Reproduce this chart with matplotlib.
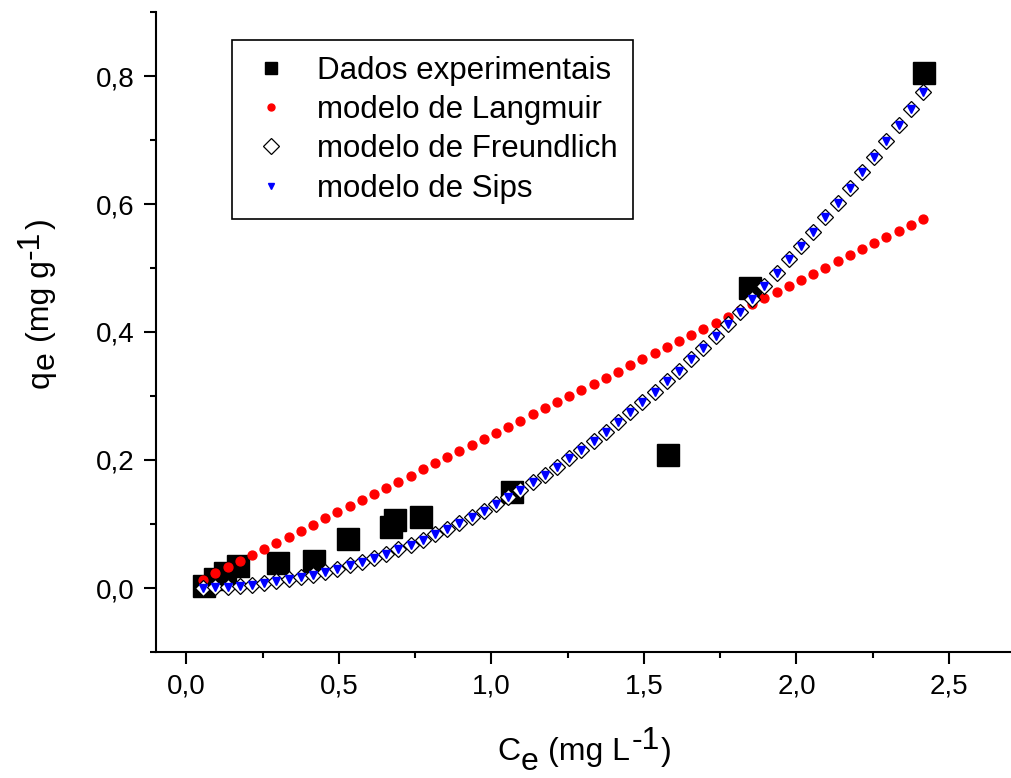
import matplotlib
matplotlib.use("Agg")
import matplotlib.pyplot as plt
from matplotlib.transforms import IdentityTransform

plt.rcParams['font.family'] = ['Liberation Sans', 'DejaVu Sans']

ce_exp = [0.056, 0.093, 0.127, 0.170, 0.300, 0.419, 0.530, 0.669, 0.682, 0.770, 1.066, 1.579, 1.846, 2.418]
qe_exp = [0.003, 0.014, 0.023, 0.035, 0.039, 0.042, 0.076, 0.095, 0.106, 0.111, 0.150, 0.208, 0.469, 0.804]

# model curves (same Ce grid for all three)
ce_model = [0.055, 0.095, 0.135, 0.175, 0.215, 0.255, 0.295, 0.335, 0.375, 0.415,
            0.455, 0.495, 0.535, 0.575, 0.615, 0.655, 0.695, 0.735, 0.775, 0.815,
            0.855, 0.895, 0.935, 0.975, 1.015, 1.055, 1.095, 1.135, 1.175, 1.215,
            1.255, 1.295, 1.335, 1.375, 1.415, 1.455, 1.495, 1.535, 1.575, 1.615,
            1.655, 1.695, 1.735, 1.775, 1.815, 1.855, 1.895, 1.935, 1.975, 2.015,
            2.055, 2.095, 2.135, 2.175, 2.215, 2.255, 2.295, 2.335, 2.375, 2.415]
qe_langmuir = [0.0131, 0.0227, 0.0323, 0.0418, 0.0514, 0.0609, 0.0705, 0.0801, 0.0896, 0.0992,
               0.1087, 0.1183, 0.1279, 0.1374, 0.1470, 0.1565, 0.1661, 0.1757, 0.1852, 0.1948,
               0.2043, 0.2139, 0.2235, 0.2330, 0.2426, 0.2521, 0.2617, 0.2713, 0.2808, 0.2904,
               0.2999, 0.3095, 0.3191, 0.3286, 0.3382, 0.3477, 0.3573, 0.3669, 0.3764, 0.3860,
               0.3955, 0.4051, 0.4147, 0.4242, 0.4338, 0.4433, 0.4529, 0.4625, 0.4720, 0.4816,
               0.4911, 0.5007, 0.5103, 0.5198, 0.5294, 0.5389, 0.5485, 0.5581, 0.5676, 0.5772]
qe_freundlich = [0.0003, 0.0010, 0.0021, 0.0036, 0.0054, 0.0077, 0.0104, 0.0135, 0.0170, 0.0210,
                 0.0253, 0.0301, 0.0353, 0.0409, 0.0470, 0.0534, 0.0603, 0.0677, 0.0754, 0.0836,
                 0.0923, 0.1013, 0.1108, 0.1208, 0.1311, 0.1420, 0.1532, 0.1649, 0.1770, 0.1896,
                 0.2026, 0.2161, 0.2300, 0.2443, 0.2591, 0.2744, 0.2901, 0.3062, 0.3228, 0.3398,
                 0.3573, 0.3752, 0.3936, 0.4124, 0.4317, 0.4514, 0.4716, 0.4922, 0.5133, 0.5349,
                 0.5569, 0.5793, 0.6022, 0.6256, 0.6494, 0.6737, 0.6984, 0.7236, 0.7492, 0.7753]
qe_sips = [0.0003, 0.0010, 0.0021, 0.0036, 0.0054, 0.0077, 0.0104, 0.0135, 0.0170, 0.0210,
           0.0253, 0.0301, 0.0353, 0.0409, 0.0470, 0.0534, 0.0603, 0.0677, 0.0754, 0.0836,
           0.0923, 0.1013, 0.1108, 0.1208, 0.1311, 0.1420, 0.1532, 0.1649, 0.1770, 0.1896,
           0.2026, 0.2161, 0.2300, 0.2443, 0.2591, 0.2744, 0.2901, 0.3062, 0.3228, 0.3398,
           0.3573, 0.3752, 0.3936, 0.4124, 0.4317, 0.4514, 0.4716, 0.4922, 0.5133, 0.5349,
           0.5569, 0.5793, 0.6022, 0.6256, 0.6494, 0.6737, 0.6984, 0.7236, 0.7492, 0.7753]

x_ticks = [0.0, 0.5, 1.0, 1.5, 2.0, 2.5]
x_ticklabels = ['0,0', '0,5', '1,0', '1,5', '2,0', '2,5']
x_minor = [0.25, 0.75, 1.25, 1.75, 2.25]
y_ticks = [0.0, 0.2, 0.4, 0.6, 0.8]
y_ticklabels = ['0,0', '0,2', '0,4', '0,6', '0,8']
y_minor = [-0.1, 0.1, 0.3, 0.5, 0.7, 0.9]

W, H = 1012, 778
fig = plt.figure(figsize=(W / 100, H / 100), dpi=100)
ax = fig.add_axes([156 / W, 1 - 652 / H, (1010 - 156) / W, (652 - 12) / H])

ax.plot(ce_exp, qe_exp, 's', color='black', ms=16.5, label='Dados experimentais')
ax.plot(ce_model, qe_langmuir, 'o', color='#ff0000', mec='#ff0000', ms=6.4, label='modelo de Langmuir')
ax.plot(ce_model, qe_freundlich, 'D', mfc='white', mec='black', mew=0.9, ms=8.2, label='modelo de Freundlich')
ax.plot(ce_model, qe_sips, 'v', color='#0000ff', ms=5.2, label='modelo de Sips')

ax.set_xlim(-0.1, 2.7)
ax.set_ylim(-0.1, 0.9)
ax.set_xticks(x_ticks)
ax.set_xticklabels(x_ticklabels)
ax.set_xticks(x_minor, minor=True)
ax.set_yticks(y_ticks)
ax.set_yticklabels(y_ticklabels)
ax.set_yticks(y_minor, minor=True)

for side in ['top', 'right']:
    ax.spines[side].set_visible(False)
for side in ['left', 'bottom']:
    ax.spines[side].set_linewidth(1.5)
ax.tick_params(which='major', direction='out', length=8.5, width=1.5, labelsize=20, pad=7)
ax.tick_params(which='minor', direction='out', length=4, width=1.5)

leg = ax.legend(loc='upper left', bbox_to_anchor=(232 / W, 1 - 40 / H), bbox_transform=fig.transFigure,
                borderaxespad=0, fontsize=22.5, fancybox=False, edgecolor='black', framealpha=1,
                borderpad=0.5, handlelength=1.52, handletextpad=0.69, labelspacing=0.3)
leg.get_frame().set_linewidth(1.2)
for h, s in zip(leg.legend_handles, [8.4, 5.0, 8.4, 3.8]):
    h.set_markersize(s)


# axis titles with full-size sub/superscripts, drawn piece by piece
def draw_label(pieces, x, y, size, rotation=0):
    r = fig.canvas.get_renderer()
    em = size * fig.dpi / 72
    for s, shift, gap in pieces:
        if rotation == 0:
            x += gap * em
            t = fig.text(x, y + shift * em, s, fontsize=size, ha='left', va='baseline',
                         transform=IdentityTransform())
            x = t.get_window_extent(r).x1
        else:
            y += gap * em
            t = fig.text(x - shift * em, y, s, fontsize=size, ha='left', va='baseline',
                         rotation=90, rotation_mode='anchor', transform=IdentityTransform())
            y = t.get_window_extent(r).y1


draw_label([('C', 0, 0), ('e', -0.32, 0.03), ('(mg L', 0, 0.3), ('-1', 0.33, 0.03), (')', 0, 0.04)],
           497, H - 760, 23)
draw_label([('q', 0, 0), ('e', -0.15, 0.03), ('(mg g', 0, 0.3), ('-1', 0.33, 0.03), (')', 0, 0.04)],
           49, H - 388, 23, rotation=90)

fig.savefig('out.png', dpi=100)
